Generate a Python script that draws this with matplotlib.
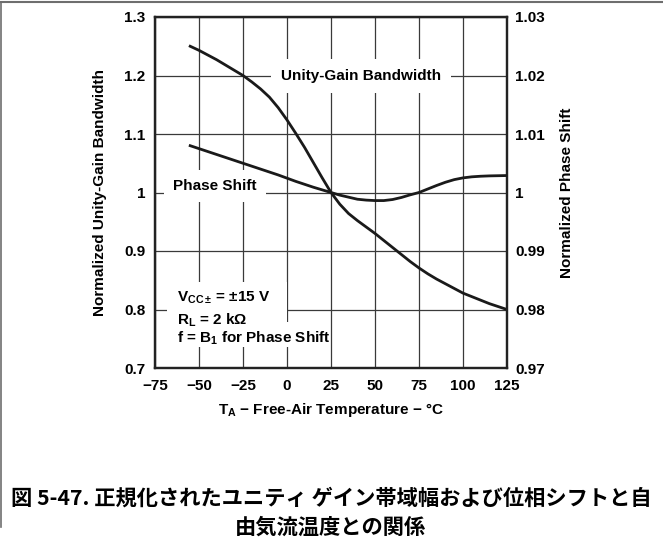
import matplotlib
matplotlib.use("Agg")
import matplotlib.pyplot as plt
from matplotlib.lines import Line2D
from matplotlib.patches import Rectangle

plt.rcParams['font.family'] = ['Liberation Sans', 'DejaVu Sans']
plt.rcParams['font.weight'] = 'bold'
plt.rcParams['mathtext.fontset'] = 'custom'
plt.rcParams['mathtext.rm'] = 'Liberation Sans:bold'
plt.rcParams['mathtext.bf'] = 'Liberation Sans:bold'
plt.rcParams['mathtext.it'] = 'Liberation Sans:bold'

# ---- data ----
ugb_temp = [-55, -50, -45, -40, -35, -30, -25, -20, -15, -10, -5, 0, 5, 10, 15, 20, 25,
            30, 35, 40, 45, 50, 55, 60, 65, 70, 75, 80, 85, 90, 95, 100, 105, 110, 115, 120, 125]
ugb_norm = [1.250, 1.243, 1.235, 1.227, 1.218, 1.209, 1.200, 1.189, 1.177, 1.163, 1.145, 1.124,
            1.101, 1.077, 1.051, 1.025, 1.000, 0.980, 0.964, 0.952, 0.941, 0.930, 0.918, 0.906,
            0.894, 0.882, 0.871, 0.861, 0.852, 0.844, 0.836, 0.828, 0.822, 0.816, 0.810, 0.805, 0.800]

ps_temp = [-55, -45, -35, -25, -15, -5, 0, 5, 15, 25, 30, 35, 40, 45, 50, 55, 60, 65, 70, 75,
           80, 85, 90, 95, 100, 105, 110, 115, 120, 125]
ps_norm = [1.0080, 1.0070, 1.0060, 1.0050, 1.0040, 1.0030, 1.00245, 1.0019, 1.0009, 1.0000,
           0.99955, 0.9992, 0.99885, 0.9987, 0.99862, 0.99862, 0.9988, 0.99915, 0.9996, 1.0000,
           1.0006, 1.0012, 1.00175, 1.0022, 1.0025, 1.00268, 1.00278, 1.00284, 1.00287, 1.0029]

x_ticks = [-75, -50, -25, 0, 25, 50, 75, 100, 125]
y_left_ticks = [0.7, 0.8, 0.9, 1.0, 1.1, 1.2, 1.3]
y_left_labels = ['0.7', '0.8', '0.9', '1', '1.1', '1.2', '1.3']
y_right_ticks = [0.97, 0.98, 0.99, 1.0, 1.01, 1.02, 1.03]
y_right_labels = ['0.97', '0.98', '0.99', '1', '1.01', '1.02', '1.03']

caption_line1 = "図 5-47. 正規化されたユニティ ゲイン帯域幅および位相シフトと自"
caption_line2 = "由気流温度との関係"

# ---- figure ----
W, H = 663, 544
fig = plt.figure(figsize=(W / 100, H / 100), dpi=100)
L, R, T, B = 155, 507, 17, 368
ax = fig.add_axes([L / W, 1 - B / H, (R - L) / W, (B - T) / H])

FS = 11
grid_c = '#3a3a3a'
ax.set_xlim(-75, 125)
ax.set_ylim(0.7, 1.3)
ax.set_xticks(x_ticks)
ax.set_yticks(y_left_ticks)
ax.set_yticklabels(y_left_labels)
ax.grid(True, color=grid_c, linewidth=0.9)
ax.tick_params(axis='both', length=0, labelsize=FS)
ax.tick_params(axis='y', pad=7)
ax.tick_params(axis='x', pad=8)
for s in ax.spines.values():
    s.set_linewidth(1.6)
    s.set_color('#222222')

ax.set_xlabel(r'$\mathbf{T_A}$ − Free-Air Temperature − °C', fontsize=FS, fontweight='bold')
ax.xaxis.set_label_coords(0.5, -0.094)
ax.set_ylabel('Normalized Unity-Gain Bandwidth', fontsize=FS, fontweight='bold')
ax.yaxis.set_label_coords(-0.137, 0.5)

ax2 = ax.twinx()
ax2.set_ylim(0.97, 1.03)
ax2.set_yticks(y_right_ticks)
ax2.set_yticklabels(y_right_labels)
ax2.tick_params(axis='y', length=0, labelsize=FS, pad=6)
for s in ax2.spines.values():
    s.set_linewidth(1.6)
    s.set_color('#222222')
ax2.set_ylabel('Normalized Phase Shift', fontsize=FS, fontweight='bold')
ax2.yaxis.set_label_coords(1.151, 0.5)

ax.plot(ugb_temp, ugb_norm, color='#1a1a1a', linewidth=2.0, zorder=5)
ax2.plot(ps_temp, ps_norm, color='#1a1a1a', linewidth=2.0, zorder=5)

# ---- labels with white boxes that break the grid ----
ax.text(0.585, 0.832, 'Unity-Gain Bandwidth', transform=ax.transAxes, ha='center', va='center',
        fontsize=FS, fontweight='bold', zorder=3,
        bbox=dict(boxstyle='square,pad=0.65', fc='white', ec='none'))
ax.text(0.17, 0.519, 'Phase Shift', transform=ax.transAxes, ha='center', va='center',
        fontsize=FS, fontweight='bold', zorder=3,
        bbox=dict(boxstyle='square,pad=0.6', fc='white', ec='none'))

ax.add_patch(Rectangle((0.035, 0.06), 0.34, 0.185, transform=ax.transAxes,
                       facecolor='white', edgecolor='none', zorder=2))
ax.add_patch(Rectangle((0.30, 0.06), 0.19, 0.07, transform=ax.transAxes,
                       facecolor='white', edgecolor='none', zorder=2))
ax.text(0.062, 0.199, r'$\mathbf{V_{CC\pm}}$' + '\u2009= ±15 V', transform=ax.transAxes,
        ha='left', va='center', fontsize=FS, fontweight='bold', zorder=3)
ax.text(0.062, 0.137, r'$\mathbf{R_L}$ = 2 kΩ', transform=ax.transAxes, ha='left', va='center',
        fontsize=FS, fontweight='bold', zorder=3)
ax.text(0.062, 0.085, r'f = $\mathbf{B_1}$ for Phase Shift', transform=ax.transAxes, ha='left', va='center',
        fontsize=FS, fontweight='bold', zorder=3)

# ---- caption ----
cap_font = ['Noto Sans CJK JP', 'DejaVu Sans']
fig.text(0.499, 1 - 498 / H, caption_line1, ha='center', va='center', fontsize=15.3,
         fontweight='bold', family=cap_font)
fig.text(0.499, 1 - 527 / H, caption_line2, ha='center', va='center', fontsize=15.3,
         fontweight='bold', family=cap_font)

# ---- page border ----
fig.add_artist(Line2D([0, 1], [1 - 2 / H, 1 - 2 / H], transform=fig.transFigure,
                      color='#6e6e6e', linewidth=1.5))
fig.add_artist(Line2D([1 / W, 1 / W], [1 - 2 / H, 1 - 527 / H], transform=fig.transFigure,
                      color='#6e6e6e', linewidth=1.2))

fig.savefig('out.png', dpi=100)
